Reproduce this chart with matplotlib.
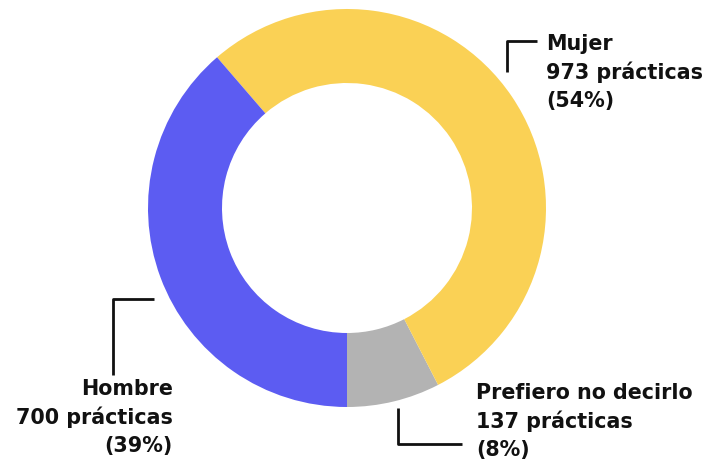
import matplotlib
matplotlib.use("Agg")
import matplotlib.pyplot as plt

categories = ["Prefiero no decirlo", "Mujer", "Hombre"]
values = [137, 973, 700]
percent_labels = ["8%", "54%", "39%"]
colors = ["#B3B3B3", "#FAD155", "#5C5CF2"]

W, H = 712, 463
fig = plt.figure(figsize=(W / 100, H / 100), dpi=100)
ax = fig.add_axes([0, 0, 1, 1])

cx, cy = 347, H - 208
ax.pie(values, colors=colors, startangle=-90, counterclock=True,
       radius=199, center=(cx, cy), frame=True,
       wedgeprops=dict(width=74, linewidth=0))
ax.set_xlim(0, W)
ax.set_ylim(0, H)
ax.set_aspect("equal")
ax.axis("off")

font = dict(family="DejaVu Sans", fontweight="bold", fontsize=14.9, color="#111111",
            linespacing=1.45)

def label(i):
    return f"{categories[i]}\n{values[i]} prácticas\n({percent_labels[i]})"

def Y(y):
    return H - y

lw = 2
# Mujer
ax.plot([507, 507, 537], [Y(72), Y(41), Y(41)], color="#111111", lw=lw, solid_capstyle="butt")
ax.text(546, Y(34), label(1), ha="left", va="top", **font)
# Hombre
ax.plot([154, 113, 113], [Y(299), Y(299), Y(375)], color="#111111", lw=lw, solid_capstyle="butt")
ax.text(173, Y(379), label(2), ha="right", va="top", multialignment="right", **font)
# Prefiero
ax.plot([398, 398, 462], [Y(408), Y(444), Y(444)], color="#111111", lw=lw, solid_capstyle="butt")
ax.text(476, Y(383), label(0), ha="left", va="top", **font)

fig.savefig("out.png", dpi=100)
